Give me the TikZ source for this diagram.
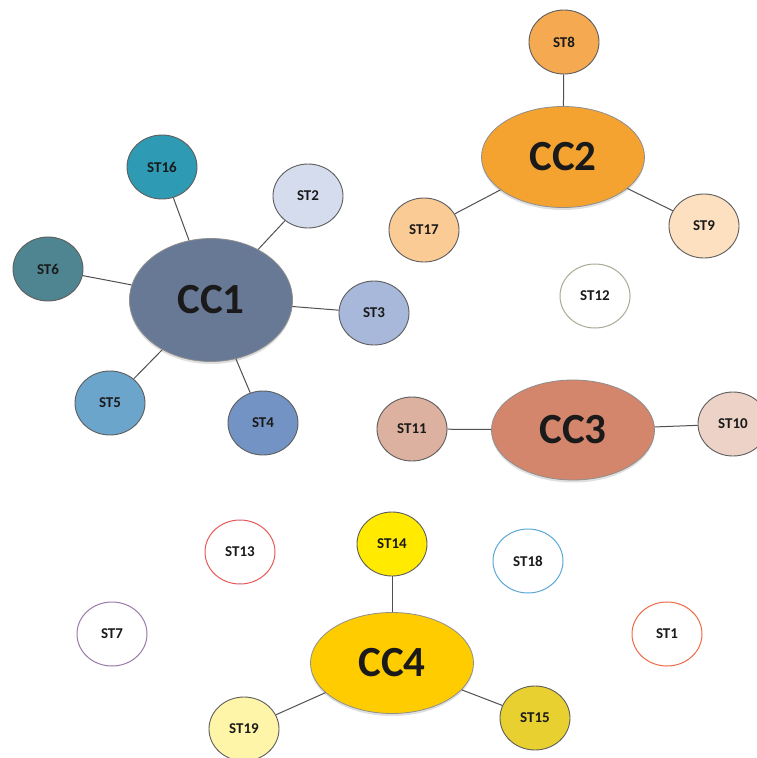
\documentclass[tikz,border=0pt]{standalone}
\usepackage{fontspec}
\setmainfont{Carlito}
\usetikzlibrary{shapes.geometric,shadows}
\definecolor{cOne}{HTML}{687996}
\definecolor{cST16}{HTML}{2E9AB3}
\definecolor{cST2}{HTML}{D5DCEE}
\definecolor{cST6}{HTML}{4E8591}
\definecolor{cST3}{HTML}{A7B8DA}
\definecolor{cST5}{HTML}{6BA5CC}
\definecolor{cST4}{HTML}{7393C4}
\definecolor{cTwo}{HTML}{F5A330}
\definecolor{cST8}{HTML}{F5A951}
\definecolor{cST17}{HTML}{FACB95}
\definecolor{cST9}{HTML}{FDE0C0}
\definecolor{cThree}{HTML}{D3866C}
\definecolor{cST11}{HTML}{DDB1A0}
\definecolor{cST10}{HTML}{EDD3C7}
\definecolor{cFour}{HTML}{FFCC00}
\definecolor{cST14}{HTML}{FFEA00}
\definecolor{cST19}{HTML}{FFF5A8}
\definecolor{cST15}{HTML}{E8D030}
\definecolor{bST12}{HTML}{A9AA96}
\definecolor{bST13}{HTML}{E8595A}
\definecolor{bST18}{HTML}{5BA8D8}
\definecolor{bST7}{HTML}{9A7BAA}
\definecolor{bST1}{HTML}{EE6A44}
\definecolor{edgegray}{HTML}{5E5E5E}
\definecolor{linkgray}{HTML}{505050}
\definecolor{txt}{HTML}{1A1A1A}
\begin{document}
\begin{tikzpicture}[x=1pt,y=-1pt,
  stnode/.style={ellipse, draw=edgegray, line width=0.9pt, inner sep=0pt,
    minimum width=70pt, minimum height=64pt, text=txt,
    font=\fontsize{15}{15}\selectfont\bfseries},
  freenode/.style={stnode, fill=white, line width=1pt},
  ccnode/.style={ellipse, draw=edgegray!70, line width=0.8pt, inner sep=0pt,
    minimum width=163pt, minimum height=101pt, text=txt,
    font=\fontsize{43}{43}\selectfont\bfseries,
    drop shadow={opacity=0.25, shadow xshift=0pt, shadow yshift=-2.5pt}},
  link/.style={draw=linkgray, line width=1pt}]
\useasboundingbox (0,0) rectangle (757,758);
\fill[white] (0,0) rectangle (757,758);
% cluster 1
\node[ccnode, fill=cOne, minimum height=123pt] (cc1) at (211,300) {CC1};
\node[stnode, fill=cST16] (st16) at (162,167) {ST16};
\node[stnode, fill=cST2] (st2) at (308,196) {ST2};
\node[stnode, fill=cST6] (st6) at (48,269) {ST6};
\node[stnode, fill=cST3] (st3) at (374,313) {ST3};
\node[stnode, fill=cST5] (st5) at (110,403) {ST5};
\node[stnode, fill=cST4] (st4) at (263,423) {ST4};
% cluster 2
\node[ccnode, fill=cTwo] (cc2) at (563,157) {CC2};
\node[stnode, fill=cST8] (st8) at (564,42) {ST8};
\node[stnode, fill=cST17] (st17) at (424,230) {ST17};
\node[stnode, fill=cST9] (st9) at (704,226) {ST9};
% cluster 3
\node[ccnode, fill=cThree, minimum height=100pt] (cc3) at (573,430) {CC3};
\node[stnode, fill=cST11] (st11) at (412,429) {ST11};
\node[stnode, fill=cST10] (st10) at (733,424) {ST10};
% cluster 4
\node[ccnode, fill=cFour] (cc4) at (392,663) {CC4};
\node[stnode, fill=cST14] (st14) at (392,544) {ST14};
\node[stnode, fill=cST19] (st19) at (244,729) {ST19};
\node[stnode, fill=cST15] (st15) at (535,718) {ST15};
% isolated
\node[freenode, draw=bST12] (st12) at (595,296) {ST12};
\node[freenode, draw=bST13] (st13) at (240,552) {ST13};
\node[freenode, draw=bST18] (st18) at (528,561) {ST18};
\node[freenode, draw=bST7] (st7) at (112,634) {ST7};
\node[freenode, draw=bST1] (st1) at (667,634) {ST1};
% links
\path[link] (cc1) -- (st16);
\path[link] (cc1) -- (st2);
\path[link] (cc1) -- (st6);
\path[link] (cc1) -- (st3);
\path[link] (cc1) -- (st5);
\path[link] (cc1) -- (st4);
\path[link] (cc2) -- (st8);
\path[link] (cc2) -- (st17);
\path[link] (cc2) -- (st9);
\path[link] (cc3) -- (st11);
\path[link] (cc3) -- (st10);
\path[link] (cc4) -- (st14);
\path[link] (cc4) -- (st19);
\path[link] (cc4) -- (st15);
\end{tikzpicture}
\end{document}
